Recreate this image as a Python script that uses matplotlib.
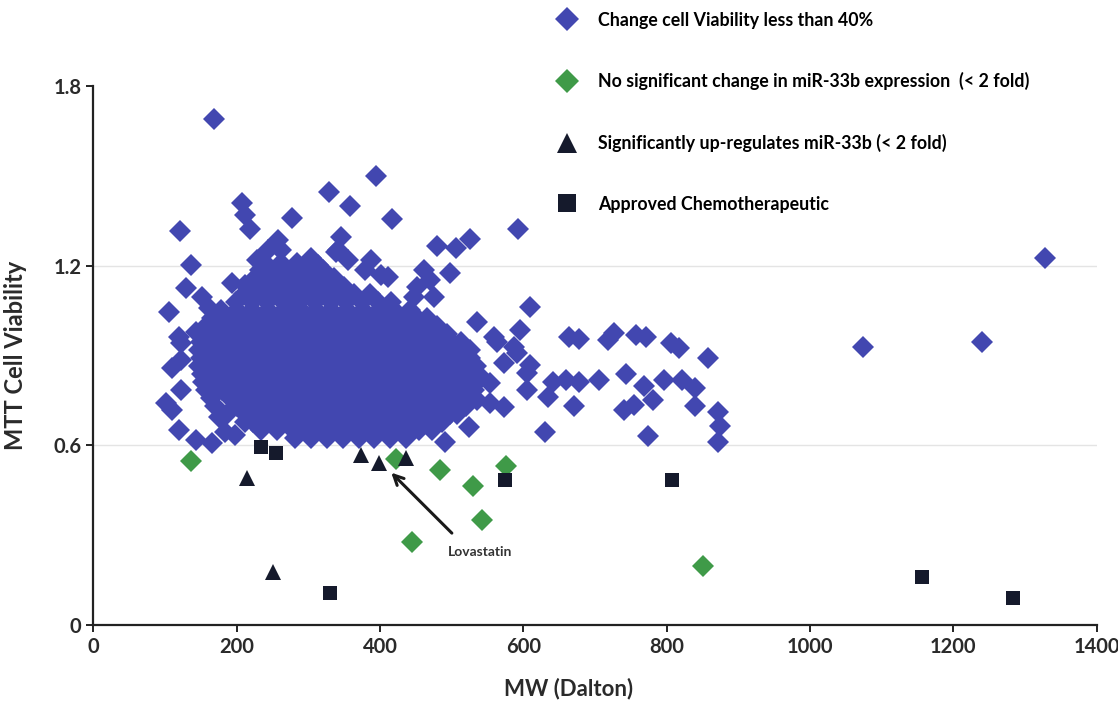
import numpy as np
import matplotlib.pyplot as plt
from matplotlib.lines import Line2D

plt.rcParams['font.family'] = ['Lato', 'DejaVu Sans']

# scattered compounds, MW in Dalton / MTT viability
blue_mw = [169, 394, 329, 358, 207, 212, 219, 277, 121, 417, 592, 345, 258, 244,
           262, 229, 136, 304, 313, 341, 480, 506, 526, 338, 355, 387, 379, 401,
           411, 462, 497, 470, 452, 476, 448, 240, 193, 212, 129, 151, 161, 105,
           202, 300, 286, 143, 119, 123, 110, 123, 101, 110, 123, 175, 119, 143,
           165, 184, 198, 609, 596, 535, 563, 587, 591, 573, 609, 605, 605, 553,
           535, 553, 573, 524, 491, 630, 635, 642, 660, 678, 705, 743, 768, 796,
           822, 840, 670, 741, 755, 781, 840, 871, 875, 871, 774, 677, 718, 727,
           757, 771, 806, 817, 857, 1074, 1240, 1328, 559, 664]
blue_mtt = [1.69, 1.50, 1.445, 1.40, 1.41, 1.368, 1.322, 1.358, 1.315, 1.355, 1.322,
            1.295, 1.285, 1.252, 1.252, 1.218, 1.202, 1.225, 1.202, 1.252, 1.265,
            1.258, 1.288, 1.245, 1.218, 1.218, 1.185, 1.168, 1.162, 1.185, 1.175,
            1.152, 1.128, 1.095, 1.095, 1.175, 1.142, 1.135, 1.125, 1.095, 1.058,
            1.045, 1.035, 1.111, 1.061, 0.978, 0.961, 0.941, 0.858, 0.885, 0.741,
            0.718, 0.784, 0.694, 0.651, 0.617, 0.607, 0.644, 0.634, 1.061, 0.985,
            1.011, 0.945, 0.928, 0.908, 0.874, 0.868, 0.841, 0.784, 0.808, 0.751,
            0.741, 0.728, 0.661, 0.611, 0.644, 0.761, 0.811, 0.818, 0.811, 0.818,
            0.838, 0.798, 0.818, 0.818, 0.791, 0.731, 0.718, 0.734, 0.751, 0.731,
            0.711, 0.664, 0.611, 0.631, 0.955, 0.951, 0.975, 0.968, 0.961, 0.941,
            0.925, 0.891, 0.928, 0.945, 1.225, 0.961, 0.961]

# dense cloud, read row by row (viability level, MW values)
core_mtt = [1.21, 1.185, 1.158, 1.13, 1.105, 1.078, 1.051, 1.025, 0.998, 0.971,
            0.945, 0.918, 0.891, 0.864, 0.838, 0.811, 0.784, 0.758, 0.731, 0.704,
            0.678, 0.651, 0.624]
core_mw = [
    [240, 262, 284],
    [232, 253, 276, 298, 320],
    [226, 247, 269, 291, 313, 336],
    [219, 240, 262, 284, 306, 328, 350],
    [210, 232, 253, 275, 297, 320, 342, 364, 386],
    [199, 221, 243, 265, 287, 309, 331, 353, 375, 397, 416],
    [178, 200, 222, 244, 266, 288, 310, 332, 354, 376, 398, 420, 442],
    [165, 187, 209, 231, 253, 275, 297, 319, 341, 363, 385, 407, 429, 451, 466],
    [157, 178, 200, 222, 244, 266, 288, 310, 332, 354, 376, 398, 420, 442, 464, 479],
    [152, 168, 190, 212, 234, 256, 278, 300, 322, 344, 366, 388, 410, 432, 454, 476, 493],
    [150, 172, 194, 216, 238, 260, 282, 304, 326, 348, 370, 392, 414, 436, 458, 480, 500, 513],
    [148, 162, 184, 206, 228, 250, 272, 294, 316, 338, 360, 382, 404, 426, 448, 470, 492, 512, 525],
    [150, 173, 195, 217, 239, 261, 283, 305, 327, 349, 371, 393, 415, 437, 459, 481, 503, 525],
    [148, 163, 185, 207, 229, 251, 273, 295, 317, 339, 361, 383, 405, 427, 449, 471, 493, 515, 534],
    [151, 174, 196, 218, 240, 262, 284, 306, 328, 350, 372, 394, 416, 438, 460, 482, 504, 526, 537],
    [153, 166, 188, 210, 232, 254, 276, 298, 320, 342, 364, 386, 408, 430, 452, 474, 496, 518, 535],
    [157, 179, 201, 223, 245, 267, 289, 311, 333, 355, 377, 399, 421, 443, 465, 487, 509, 531],
    [164, 190, 212, 234, 256, 278, 300, 322, 344, 366, 388, 410, 432, 454, 476, 498, 520],
    [170, 201, 223, 245, 267, 289, 311, 333, 355, 377, 399, 421, 443, 465, 487, 509, 520],
    [186, 212, 234, 256, 278, 300, 322, 344, 366, 388, 410, 432, 454, 476, 498, 507],
    [212, 223, 245, 267, 289, 311, 333, 355, 377, 399, 421, 443, 465, 487],
    [234, 256, 278, 300, 322, 344, 366, 388, 410, 432, 454, 472],
    [282, 304, 326, 348, 370, 392, 414, 436],
]

green_mw = [136, 422, 484, 530, 576, 542, 445, 851]
green_mtt = [0.547, 0.554, 0.517, 0.464, 0.531, 0.350, 0.277, 0.197]

tri_mw = [214, 373, 399, 436, 251]
tri_mtt = [0.49, 0.567, 0.54, 0.557, 0.177]

sq_mw = [234, 255, 574, 330, 807, 1156, 1283]
sq_mtt = [0.594, 0.574, 0.484, 0.107, 0.484, 0.16, 0.09]

labels = ['Change cell Viability less than 40%',
          'No significant change in miR-33b expression  (< 2 fold)',
          'Significantly up-regulates miR-33b (< 2 fold)',
          'Approved Chemotherapeutic']

xticks = [0, 200, 400, 600, 800, 1000, 1200, 1400]
yticks = [0, 0.6, 1.2, 1.8]
ytick_labels = ['0', '0.6', '1.2', '1.8']

all_mw = list(blue_mw)
all_mtt = list(blue_mtt)
for level, row in zip(core_mtt, core_mw):
    all_mw += row
    all_mtt += [level] * len(row)

blue = '#4247B0'
green = '#3F9A48'
dark = '#151A2C'

fig = plt.figure(figsize=(11.18, 7.15), dpi=100)
ax = fig.add_axes([0.0835, 0.126, 0.8974, 0.7538])

for v in [0.6, 1.2]:
    ax.axhline(v, color='#e4e4e4', lw=1, zorder=0)

ax.plot(all_mw, all_mtt, 'D', color=blue, ms=11, mew=0, ls='none', zorder=2)
ax.plot(green_mw, green_mtt, 'D', color=green, ms=11, mew=0, ls='none', zorder=3)
ax.plot(tri_mw, tri_mtt, '^', color=dark, ms=12, mew=0, ls='none', zorder=4)
ax.plot(sq_mw, sq_mtt, 's', color=dark, ms=10.5, mew=0, ls='none', zorder=4)

ax.annotate('', xy=(413, 0.515), xytext=(503, 0.30),
            arrowprops=dict(arrowstyle='->,head_length=0.7,head_width=0.35',
                            color='#1a1a1a', lw=2.2))
ax.text(539, 0.244, 'Lovastatin', ha='center', va='center', fontsize=10,
        fontweight='bold', color='#333333')

ax.set_xlim(0, 1400)
ax.set_ylim(0, 1.8)
ax.set_xticks(xticks)
ax.set_yticks(yticks)
ax.set_yticklabels(ytick_labels)
for s in ['top', 'right']:
    ax.spines[s].set_visible(False)
for s in ['left', 'bottom']:
    ax.spines[s].set_linewidth(1.6)
    ax.spines[s].set_color('#222222')
ax.tick_params(direction='out', length=5, width=1.4, labelsize=14.5, colors='#222222')
for t in ax.get_xticklabels() + ax.get_yticklabels():
    t.set_fontweight('bold')
    t.set_color('#2a2a2a')

ax.set_xlabel('MW (Dalton)', fontsize=16, fontweight='bold', color='#2a2a2a')
ax.xaxis.set_label_coords(0.474, -0.098)
ax.set_ylabel('MTT Cell Viability', fontsize=17, fontweight='bold', color='#2a2a2a')
ax.yaxis.set_label_coords(-0.066, 0.5)

# legend handles, drawn a bit larger than the plot marks as in the original
handles = [Line2D([], [], marker='D', color=blue, ms=12, mew=0, ls='none'),
           Line2D([], [], marker='D', color=green, ms=12, mew=0, ls='none'),
           Line2D([], [], marker='^', color=dark, ms=14, mew=0, ls='none'),
           Line2D([], [], marker='s', color=dark, ms=13, mew=0, ls='none')]
fig.legend(handles, labels, loc='upper left', bbox_to_anchor=(0.477, 1.006),
           frameon=False, prop={'weight': 'bold', 'size': 12.8},
           labelspacing=2.45, handletextpad=0.75)

fig.savefig('out.png', dpi=100)
